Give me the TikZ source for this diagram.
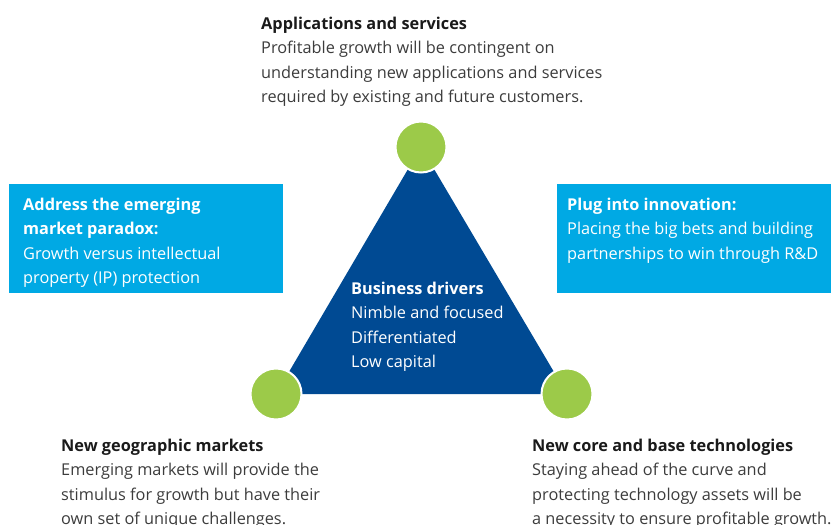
\documentclass[tikz,border=0pt]{standalone}
\usepackage{fontspec}
\setmainfont{Open Sans}
\usepackage{tikz}
\definecolor{boxcyan}{RGB}{0,169,228}
\definecolor{triblue}{RGB}{0,74,147}
\definecolor{dotgreen}{RGB}{156,202,73}
\definecolor{headgray}{RGB}{26,26,26}
\definecolor{bodygray}{RGB}{60,60,60}

\begin{document}
\begin{tikzpicture}[x=1pt,y=-1pt,
  dot/.style={circle,fill=dotgreen,draw=white,line width=2pt,minimum size=51pt,inner sep=0pt},
  txt/.style={anchor=base west,align=left,inner sep=0pt,
    font=\fontsize{16.3}{24.5}\selectfont,text=bodygray},
  ]
  \useasboundingbox (0,0) rectangle (831,525);
  \coordinate (T) at (421,147);
  \coordinate (L) at (276,394);
  \coordinate (R) at (567,394);
  % boxes
  \fill[boxcyan] (9,184) rectangle (283,293);
  \fill[boxcyan] (557,184) rectangle (831,293);
  % triangle and its corners
  \fill[triblue] (T) -- (L) -- (R) -- cycle;
  \node[dot] (apps) at (T) {};
  \node[dot] (geo) at (L) {};
  \node[dot] (tech) at (R) {};
  % texts (anchored at the baseline of the last line)
  \node[txt] (appstxt) at (261,102.5) {{\bfseries\color{headgray}Applications and services}\\
    Profitable growth will be contingent on\\
    understanding new applications and services\\
    required by existing and future customers.};
  \node[txt,text=white] (paradox) at (23,283.5) {{\bfseries Address the emerging}\\
    {\bfseries market paradox:}\\
    Growth versus intellectual\\
    property (IP) protection};
  \node[txt,text=white] (plug) at (567,259) {{\bfseries Plug into innovation:}\\
    Placing the big bets and building\\
    partnerships to win through R\&D};
  \node[txt,text=white] (drivers) at (351,367.5) {{\bfseries Business drivers}\\
    Nimble and focused\\
    Differentiated\\
    Low capital};
  \node[txt] (geotxt) at (61,524.5) {{\bfseries\color{headgray}New geographic markets}\\
    Emerging markets will provide the\\
    stimulus for growth but have their\\
    own set of unique challenges.};
  \node[txt] (techtxt) at (532,524.5) {{\bfseries\color{headgray}New core and base technologies}\\
    Staying ahead of the curve and\\
    protecting technology assets will be\\
    a necessity to ensure profitable growth.};
\end{tikzpicture}
\end{document}
